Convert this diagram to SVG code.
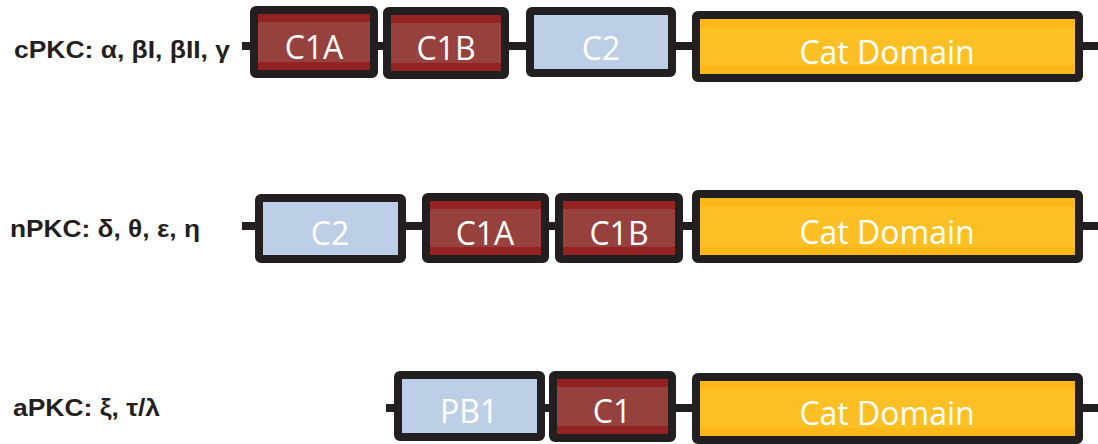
<svg xmlns="http://www.w3.org/2000/svg" width="1098" height="444" viewBox="0 0 1098 444">
<style>
.ln{stroke:#231f20;stroke-width:8;fill:none}
.ol{fill:none;stroke:#231f20;stroke-width:8;stroke-linejoin:round}
.red{fill:#97413f}.redS{fill:#932320}
.blue{fill:#bccfe6}.blueS{fill:#b6cae2}
.org{fill:#fdc024}.orgS{fill:#fbb818}
.lab{font-family:"Liberation Sans",Arial,sans-serif;font-weight:bold;font-size:24px;fill:#231f20}
.bt{font-family:"Open Sans","Noto Sans",sans-serif;font-size:32px;fill:#ffffff;text-anchor:middle}
</style>
<g id="connectors">
<line class="ln" x1="242" y1="46" x2="1098" y2="46"/>
<line class="ln" x1="242" y1="226" x2="1098" y2="226"/>
<line class="ln" x1="386" y1="408" x2="1098" y2="408"/>
</g>
<g id="label-cPKC"><text class="lab" x="14" y="58" textLength="216" lengthAdjust="spacingAndGlyphs">cPKC: α, βI, βII, γ</text></g>
<g id="label-nPKC"><text class="lab" x="10" y="237" textLength="190" lengthAdjust="spacingAndGlyphs">nPKC: δ, θ, ε, η</text></g>
<g id="label-aPKC"><text class="lab" x="13" y="416" textLength="147" lengthAdjust="spacingAndGlyphs">aPKC: ξ, τ/λ</text></g>

<g id="r1-C1A">
<rect class="red" x="254" y="10" width="120" height="64"/>
<rect class="redS" x="258" y="14" width="112" height="8"/><rect class="redS" x="258" y="62" width="112" height="8"/>
<rect class="ol" x="254" y="10" width="120" height="64" rx="2"/>
<text class="bt" x="314" y="59">C1A</text>
</g>
<g id="r1-C1B">
<rect class="red" x="387" y="11" width="118" height="64"/>
<rect class="redS" x="391" y="15" width="110" height="8"/><rect class="redS" x="391" y="63" width="110" height="8"/>
<rect class="ol" x="387" y="11" width="118" height="64" rx="2"/>
<text class="bt" x="446" y="60">C1B</text>
</g>
<g id="r1-C2">
<rect class="blue" x="530" y="11" width="142" height="62"/>
<rect class="ol" x="530" y="11" width="142" height="62" rx="2"/>
<text class="bt" x="601" y="60">C2</text>
</g>
<g id="r1-Cat">
<rect class="org" x="696" y="15" width="383" height="63"/>
<rect class="orgS" x="700" y="19" width="375" height="8"/><rect class="orgS" x="700" y="66" width="375" height="8"/>
<rect class="ol" x="696" y="15" width="383" height="63" rx="2"/>
<text class="bt" x="887" y="64">Cat Domain</text>
</g>

<g id="r2-C2">
<rect class="blue" x="259" y="198" width="143" height="61"/>
<rect class="ol" x="259" y="198" width="143" height="61" rx="2"/>
<text class="bt" x="330" y="245">C2</text>
</g>
<g id="r2-C1A">
<rect class="red" x="426" y="197" width="119" height="62"/>
<rect class="redS" x="430" y="201" width="111" height="8"/><rect class="redS" x="430" y="247" width="111" height="8"/>
<rect class="ol" x="426" y="197" width="119" height="62" rx="2"/>
<text class="bt" x="485" y="245">C1A</text>
</g>
<g id="r2-C1B">
<rect class="red" x="559" y="197" width="120" height="62"/>
<rect class="redS" x="563" y="201" width="112" height="8"/><rect class="redS" x="563" y="247" width="112" height="8"/>
<rect class="ol" x="559" y="197" width="120" height="62" rx="2"/>
<text class="bt" x="619" y="245">C1B</text>
</g>
<g id="r2-Cat">
<rect class="org" x="696" y="194" width="383" height="65"/>
<rect class="orgS" x="700" y="198" width="375" height="8"/><rect class="orgS" x="700" y="247" width="375" height="8"/>
<rect class="ol" x="696" y="194" width="383" height="65" rx="2"/>
<text class="bt" x="887" y="244">Cat Domain</text>
</g>

<g id="r3-PB1">
<rect class="blue" x="398" y="375" width="143" height="62"/>
<rect class="ol" x="398" y="375" width="143" height="62" rx="2"/>
<text class="bt" x="469" y="423">PB1</text>
</g>
<g id="r3-C1">
<rect class="red" x="553" y="375" width="119" height="63"/>
<rect class="redS" x="557" y="379" width="111" height="8"/><rect class="redS" x="557" y="426" width="111" height="8"/>
<rect class="ol" x="553" y="375" width="119" height="63" rx="2"/>
<text class="bt" x="612" y="423">C1</text>
</g>
<g id="r3-Cat">
<rect class="org" x="696" y="377" width="383" height="63"/>
<rect class="orgS" x="700" y="381" width="375" height="8"/><rect class="orgS" x="700" y="428" width="375" height="8"/>
<rect class="ol" x="696" y="377" width="383" height="63" rx="2"/>
<text class="bt" x="887" y="425">Cat Domain</text>
</g>
</svg>
